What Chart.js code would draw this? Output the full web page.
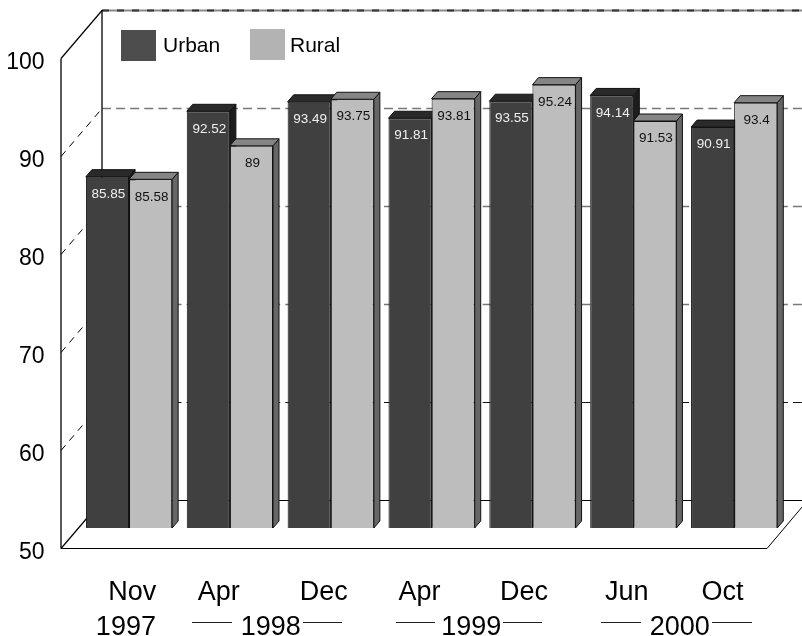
<!DOCTYPE html>
<html>
<head>
<meta charset="utf-8">
<title>Urban and Rural</title>
<style>
  html, body { margin: 0; padding: 0; background: #fff; }
  canvas { display: block; }
</style>
<script src="https://cdn.jsdelivr.net/npm/chart.js@4"></script>
</head>
<body>
<canvas id="chart" width="802" height="636"></canvas>
<script>
// Survey rounds and the two series
const categories = ['Nov 1997', 'Apr 1998', 'Dec 1998', 'Apr 1999', 'Dec 1999', 'Jun 2000', 'Oct 2000'];
const urban = [85.85, 92.52, 93.49, 91.81, 93.55, 94.14, 90.91];
const rural = [85.58, 89, 93.75, 93.81, 95.24, 91.53, 93.4];
const axisTicks = [50, 60, 70, 80, 90, 100];

// Axis captions, placed on the category index scale
const monthLabels = ['Nov', 'Apr', 'Dec', 'Apr', 'Dec', 'Jun', 'Oct'];
const monthAnchors = [0.033, 0.89, 1.93, 2.88, 3.915, 4.934, 5.885];
const yearLabels = ['1997', '1998', '1999', '2000'];
const yearAnchors = [-0.031, 1.406, 3.393, 5.46];

// Box geometry of the pseudo-3D plot
const AREA = { left: 78.6, right: 784.6, top: 10, bottom: 549 };
const UNIT = 9.8;           // pixels per percentage point
const WALL = { dx: 41, dy: 48.5 };   // front edge to back wall
const BAR_LIFT = 21;        // bar plane above the front edge
const BAR_DEPTH = { dx: 6, dy: 7 };
const FRONT_X = 61;
const FLOOR_RIGHT = 767;
const LABEL_DROP = 4;       // axis numbers sit slightly below their tick
const areaUnits = (AREA.bottom - AREA.top) / UNIT;

const FONT = 'Liberation Sans, Arial, sans-serif';
const fillUrban = '#404040', fillRural = '#bdbdbd';
const faces = {
  Urban: { top: '#2a2a2a', side: '#1c1c1c' },
  Rural: { top: '#858585', side: '#666666' }
};
const swatches = [
  { x: 121, y: 30, w: 35, h: 31, fill: '#4d4d4d', textX: 163, textY: 46 },
  { x: 250, y: 29, w: 35, h: 31, fill: '#b3b3b3', textX: 290, textY: 46 }
];
const yearRules = [[192, 232], [303, 342], [396, 435], [503, 542], [601, 641], [712, 752]];
const yearRuleY = 622.5;

function line(ctx, x0, y0, x1, y1, color, width, dash) {
  ctx.save();
  ctx.strokeStyle = color;
  ctx.lineWidth = width;
  ctx.setLineDash(dash || []);
  ctx.beginPath();
  ctx.moveTo(x0, y0);
  ctx.lineTo(x1, y1);
  ctx.stroke();
  ctx.restore();
}

function poly(ctx, pts, fill) {
  ctx.beginPath();
  pts.forEach((p, i) => i ? ctx.lineTo(p[0], p[1]) : ctx.moveTo(p[0], p[1]));
  ctx.closePath();
  ctx.fillStyle = fill;
  ctx.fill();
  ctx.strokeStyle = '#111';
  ctx.lineWidth = 1;
  ctx.stroke();
}

// Tick labels may overhang the plot area; the box geometry is fixed
const noOverhang = s => { s.paddingLeft = s.paddingRight = s.paddingTop = s.paddingBottom = 0; };

// Back wall, side wall and floor of the box, behind the bars
const wallPlugin = {
  id: 'wall',
  beforeDatasetsDraw(chart) {
    const { ctx } = chart;
    const back = chart.scales.yBack;
    const frontY = v => back.getPixelForValue(v) + WALL.dy;
    const backX = FRONT_X + WALL.dx;
    const wallW = chart.width;

    axisTicks.forEach(v => {
      const by = Math.round(back.getPixelForValue(v)) + 0.5;
      const fy = frontY(v);
      if (v === 100) {
        line(ctx, backX, by, wallW, by, '#8a8a8a', 2);
        line(ctx, backX, by, wallW, by, '#333', 2, [7, 8]);
        line(ctx, FRONT_X, fy, backX, by, '#000', 1.2);
      } else if (v === 50) {
        line(ctx, backX, by, wallW, by, '#000', 1.2);
        line(ctx, FRONT_X, fy, backX, by, '#000', 1.2);
      } else {
        const gray = v === 60 ? '#111' : '#777';
        line(ctx, backX, by, wallW, by, gray, v === 60 ? 1.2 : 1.6, [9, 5.1]);
        line(ctx, FRONT_X, fy, backX, by, '#000', 1, [7, 6]);
      }
    });

    const fTop = frontY(100), fBase = frontY(50);
    const bTop = back.getPixelForValue(100), bBase = back.getPixelForValue(50);
    line(ctx, FRONT_X, fTop, FRONT_X, fBase, '#000', 1.3);
    line(ctx, backX, bTop, backX, bBase, '#000', 1.3);
    line(ctx, FRONT_X, fBase, FLOOR_RIGHT, fBase, '#000', 1.2);
    line(ctx, FLOOR_RIGHT, fBase, FLOOR_RIGHT + WALL.dx, fBase - WALL.dy, '#000', 1);

    // Side and top faces of every bar; the library paints the fronts over them
    chart.data.datasets.forEach((ds, di) => {
      const look = faces[ds.label];
      chart.getDatasetMeta(di).data.forEach(bar => {
        const { x, y, base, width } = bar.getProps(['x', 'y', 'base', 'width'], true);
        const l = x - width / 2, r = x + width / 2;
        const { dx, dy } = BAR_DEPTH;
        poly(ctx, [[r, y], [r + dx, y - dy], [r + dx, base - dy], [r, base]], look.side);
        poly(ctx, [[l, y], [l + dx, y - dy], [r + dx, y - dy], [r, y]], look.top);
      });
    });
  },
  afterDatasetsDraw(chart) {
    const { ctx } = chart;
    // Value printed inside the head of each bar
    ctx.save();
    ctx.font = '13.5px ' + FONT;
    ctx.textAlign = 'center';
    ctx.textBaseline = 'middle';
    chart.data.datasets.forEach((ds, di) => {
      ctx.fillStyle = ds.label === 'Urban' ? '#efefef' : '#111';
      chart.getDatasetMeta(di).data.forEach((bar, i) => {
        const { x, y } = bar.getProps(['x', 'y'], true);
        ctx.fillText(String(ds.data[i]), x + 1, y + 17.5);
      });
    });

    // Key in the upper corner of the wall
    ctx.font = '21px ' + FONT;
    ctx.textAlign = 'left';
    chart.data.datasets.forEach((ds, di) => {
      const s = swatches[di];
      ctx.fillStyle = s.fill;
      ctx.fillRect(s.x, s.y, s.w, s.h);
      ctx.fillStyle = '#000';
      ctx.fillText(ds.label, s.textX, s.textY);
    });
    ctx.restore();

    // Rules that bracket a year across its months
    yearRules.forEach(r => line(ctx, r[0], yearRuleY, r[1], yearRuleY, '#222', 1));
  }
};

new Chart(document.getElementById('chart'), {
  type: 'bar',
  data: {
    labels: categories,
    datasets: [
      { label: 'Urban', data: urban, backgroundColor: fillUrban, borderColor: '#111', borderWidth: 1, base: 50 },
      { label: 'Rural', data: rural, backgroundColor: fillRural, borderColor: '#111', borderWidth: 1, base: 50 }
    ]
  },
  options: {
    responsive: false,
    animation: false,
    layout: { padding: { left: 0, top: AREA.top, right: 802 - AREA.right, bottom: 0 } },
    datasets: { bar: { barPercentage: 1, categoryPercentage: 0.855 } },
    plugins: { legend: { display: false }, tooltip: { enabled: false } },
    scales: {
      x: { type: 'category', display: false },
      xMonth: {
        type: 'linear', position: 'bottom', axis: 'x', offset: false,
        min: -0.5, max: 6.5,
        grid: { display: false, drawTicks: false, offset: false }, border: { display: false },
        afterBuildTicks: s => { s.ticks = monthAnchors.map(v => ({ value: v })); },
        afterFit: s => { s.height = 58; noOverhang(s); },
        ticks: {
          padding: 27, autoSkip: false, maxRotation: 0, color: '#000',
          font: { family: FONT, size: 27 },
          callback: (v, i) => monthLabels[i]
        }
      },
      xYear: {
        type: 'linear', position: 'bottom', axis: 'x', offset: false,
        min: -0.5, max: 6.5,
        grid: { display: false, drawTicks: false, offset: false }, border: { display: false },
        afterBuildTicks: s => { s.ticks = yearAnchors.map(v => ({ value: v })); },
        afterFit: s => { s.height = 29; noOverhang(s); },
        ticks: {
          padding: 4, autoSkip: false, maxRotation: 0, color: '#000',
          font: { family: FONT, size: 27 },
          callback: (v, i) => yearLabels[i]
        }
      },
      // Scale of the bars: their base sits BAR_LIFT above the front edge
      y: {
        display: false,
        min: 50 - BAR_LIFT / UNIT,
        max: 50 - BAR_LIFT / UNIT + areaUnits
      },
      // Scale printed beside the front edge of the box
      yFront: {
        type: 'linear', position: 'left',
        min: 50 + LABEL_DROP / UNIT, max: 50 + LABEL_DROP / UNIT + areaUnits,
        grid: { display: false, drawTicks: false }, border: { display: false },
        afterBuildTicks: s => { s.ticks = axisTicks.map(v => ({ value: v })); },
        afterFit: s => { s.width = AREA.left; noOverhang(s); },
        ticks: {
          padding: 34, color: '#000',
          font: { family: FONT, size: 23 }
        }
      },
      // Scale of the gridlines on the back wall
      yBack: {
        type: 'linear', display: false,
        min: 100 - areaUnits, max: 100
      }
    }
  },
  plugins: [wallPlugin]
});
</script>
</body>
</html>
